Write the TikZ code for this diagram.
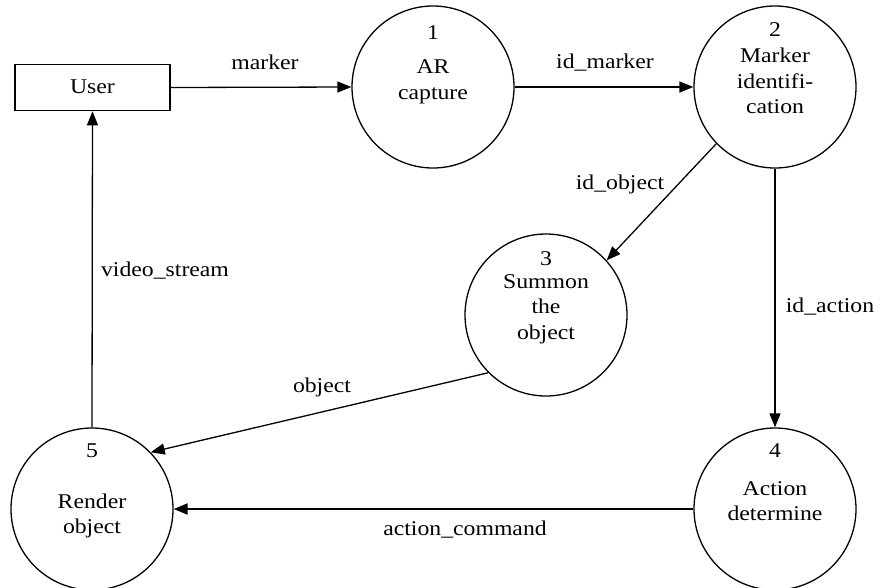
\documentclass[tikz,border=0pt]{standalone}
\usepackage{fontspec}
\setmainfont{Liberation Serif}[FakeStretch=1.13]
\usetikzlibrary{arrows.meta}

\tikzset{
  process/.style={draw, circle, line width=1.3pt, minimum size=162pt, inner sep=0pt},
  entity/.style={draw, rectangle, line width=1.6pt, minimum width=155pt, minimum height=46pt, inner sep=0pt},
  txt/.style={inner sep=0pt, align=center, font=\fontsize{21}{25.5}\selectfont},
  flow/.style={line width=1.3pt, -{Triangle[length=14pt, width=11pt]}},
}

\begin{document}
\begin{tikzpicture}[x=1pt, y=-1pt]
\useasboundingbox (0,0) rectangle (883,587);

% external entity and processes
\node[entity] (user) at (92.5,87.5) {};
\node[txt] (usertxt) at (92.5,87) {User};

\node[process] (p1) at (433,87) {};
\node[process] (p2) at (775,87) {};
\node[process] (p3) at (546,315) {};
\node[process] (p4) at (775,509) {};
\node[process] (p5) at (92,509) {};

% process numbers and names
\node[txt] (n1) at (433,33) {1};
\node[txt] (t1) at (433,82) {AR\\capture};
\node[txt] (n2) at (775,30) {2};
\node[txt] (t2) at (775,81) {Marker\\identifi-\\cation};
\node[txt] (n3) at (546,259) {3};
\node[txt] (t3) at (546,309) {Summon\\the\\object};
\node[txt] (n4) at (775,451) {4};
\node[txt] (t4) at (775,501) {Action\\determine};
\node[txt] (n5) at (92,451) {5};
\node[txt] (t5) at (92,516) {Render\\object};

% data flows
\draw[flow] (user.east) -- (p1.west);
\draw[flow] (p1.east) -- (p2.west);
\draw[flow] (p2.224) -- (p3.42);
\draw[flow] (p2.south) -- (p4.north);
\draw[flow] (p3.225) -- (p5.44);
\draw[flow, line width=2pt] (p4.west) -- (p5.east);
\draw[flow] (p5.north) -- (user.south);

% flow labels
\node[txt] (lmarker) at (265,62) {marker};
\node[txt] (lidmarker) at (605,63) {id\_marker};
\node[txt] (lidobject) at (620,184) {id\_object};
\node[txt] (lidaction) at (830,307) {id\_action};
\node[txt] (lobject) at (322,387) {object};
\node[txt] (lvideo) at (165,271) {video\_stream};
\node[txt] (laction) at (465,530) {action\_command};
\end{tikzpicture}
\end{document}
